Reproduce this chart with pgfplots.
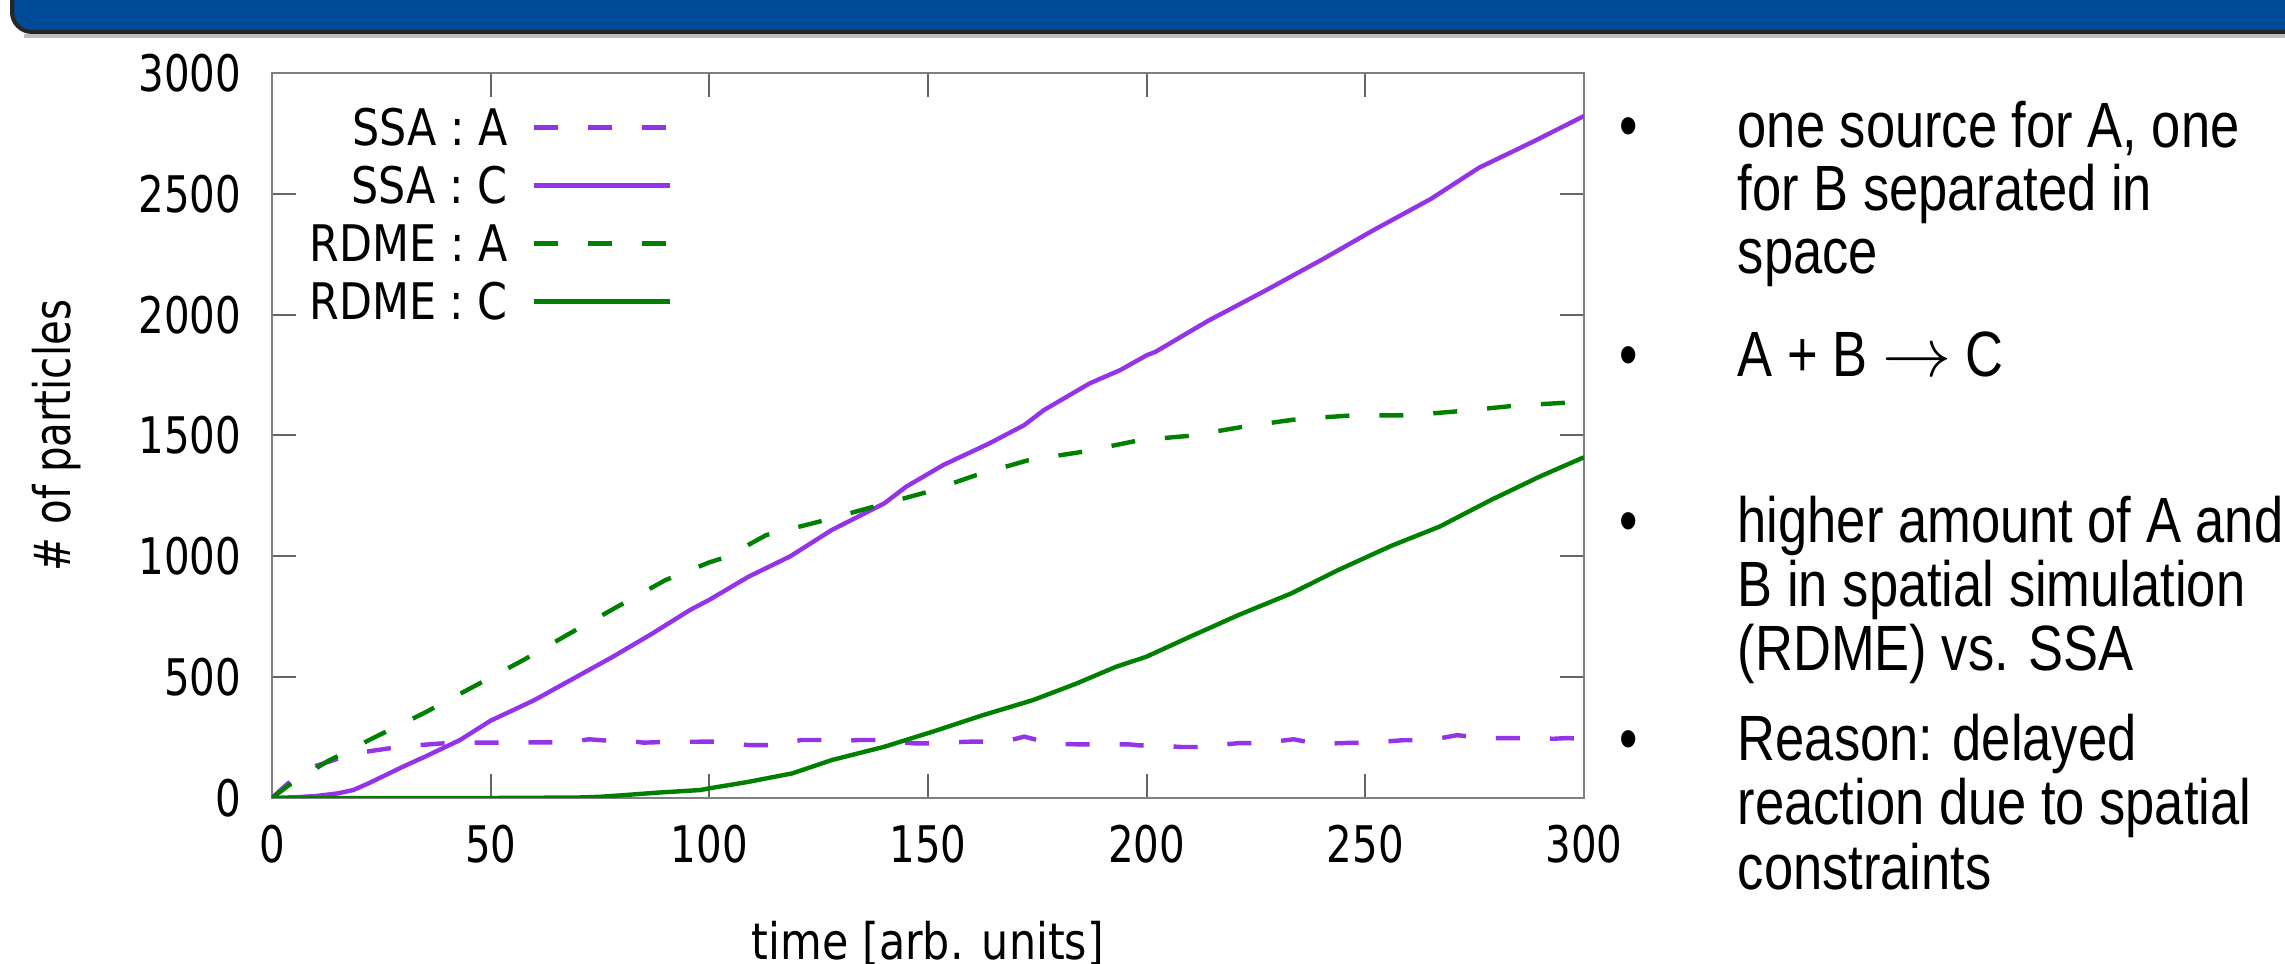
\documentclass[border=0pt]{standalone}
\usepackage{fontspec}
\usepackage{pgfplots}
\pgfplotsset{compat=1.18}
\newfontfamily\plotfont[FakeStretch=0.80]{DejaVu Sans}
\newfontfamily\plotfontw[FakeStretch=0.85]{DejaVu Sans}
\newfontfamily\bulletfont[FakeStretch=0.82]{Liberation Sans}
\definecolor{ssa}{RGB}{148,52,232}
\definecolor{rdme}{RGB}{0,128,0}
\definecolor{banner}{RGB}{0,74,152}
\definecolor{frame}{RGB}{128,128,128}
\newcommand{\pf}{\plotfont\fontsize{12.6}{14}\selectfont}
\newcommand{\pfw}{\plotfontw\fontsize{12.6}{14}\selectfont}
\newcommand{\bfnt}{\bulletfont\fontsize{16}{16}\selectfont}
\begin{document}
\begin{tikzpicture}
\useasboundingbox (0,0) rectangle (571.25pt,241pt);
\fill[white] (0,0) rectangle (571.25pt,241pt);
% banner
\draw[line width=1pt, draw=black!85, fill=banner, rounded corners=5pt] (3pt,250pt) -- (3pt,233pt) -- (600pt,233pt) -- (600pt,250pt) -- cycle;
\draw[line width=0.8pt, gray!50] (6pt,232pt) -- (600pt,232pt);
\begin{axis}[
  scale only axis, width=328pt, height=181.25pt,
  at={(68pt,41.5pt)}, anchor=south west,
  xmin=0, xmax=300, ymin=0, ymax=3000,
  xtick={0,50,...,300}, ytick={0,500,...,3000},
  tick align=inside, major tick length=6pt,
  axis line style={draw=frame, line width=0.6pt},
  tick style={draw=frame!80!black, line width=0.5pt},
  /pgf/number format/assume math mode=true,
  /pgf/number format/set thousands separator={},
  tick label style={font=\pf},
  xticklabel style={anchor=base, yshift=-16.25pt, inner sep=0pt},
  yticklabel style={anchor=east, inner sep=0pt, xshift=-7.5pt},
  xlabel={time [arb. units]}, ylabel={\# of particles},
  xlabel style={font=\pfw, at={(axis description cs:0.5,0)}, anchor=base, yshift=-40.5pt, inner sep=0pt},
  ylabel style={font=\pf, at={(axis description cs:-0.1638,0.5)}, anchor=center, inner sep=0pt},
  legend plot pos=right,
  legend cell align=right,
  legend image code/.code={\draw[#1] (0pt,0pt) -- (34pt,0pt);},
  legend style={draw=none, fill=none, inner sep=0pt, outer sep=0pt,
    at={(rel axis cs:0.305,0.950)}, anchor=north east,
    font=\pfw, row sep=5.4pt, column sep=6pt,
    nodes={inner sep=0pt, text height=9.1pt, text depth=0pt}},
  every axis plot/.append style={line width=1.1pt},
]
\addplot[ssa, dash pattern=on 6pt off 7.5pt] coordinates {
(0,0) (3,50) (6,95) (9.5,130) (13,150) (17,175) (21.7,192) (26.6,205) (33.8,219) (39,226) (46,229) (52,229) (56,225) (59,230) (64,230) (68,230) (72.5,243) (76,238) (80,240) (85,229) (90,232) (98,233) (101,233) (105,225) (109,219) (115,219) (121,240) (127,240) (131,236) (134,240) (139,240) (143,232) (147,226) (151,226) (155,230) (159.5,233) (165,233) (169,240) (172,254) (178,226) (181,223) (184.5,222) (190,222) (196,222) (198,218) (201,218) (205,214) (208,211) (214,211) (217,220) (221,227) (227,227) (230,235) (233.6,243) (239,224) (243,226) (246,228) (252,228) (255,234) (258.5,239) (264,239) (268,250) (271,260) (277,248) (283,248) (289,248) (293,245) (296,248) (300,245)};
\addlegendentry{SSA : A}
\addplot[ssa] coordinates {
(0,0) (5,3) (10,8) (15,19) (18.6,33) (22,60) (26,95) (30,130) (35,171) (43,240) (50,320) (60,405) (69,495) (78,585) (87,681) (95.6,778) (100,820) (109,916) (118.5,1000) (128,1109) (140,1219) (145,1288) (153.5,1378) (164,1467) (172,1543) (176.5,1605) (187,1716) (194,1771) (200,1832) (202,1846) (214,1974) (227.5,2103) (240.5,2232) (252,2351) (265,2479) (276,2608) (288.5,2717) (300,2822)};
\addlegendentry{SSA : C}
\addplot[rdme, dash pattern=on 6pt off 7.5pt] coordinates {
(0,0) (3.7,51) (12.5,150) (23,247) (34.6,350) (46,460) (57.5,571) (68,680) (79,792) (90,902) (100,975) (104,998) (113,1088) (125,1143) (137.5,1205) (150,1267) (161,1336) (173,1398) (185.5,1433) (198.5,1481) (210,1499) (223,1539) (235,1569) (247,1583) (259.5,1583) (272.4,1602) (284.6,1624) (300,1640)};
\addlegendentry{RDME : A}
\addplot[rdme] coordinates {
(0,0) (50,0) (70,2) (75,5) (80.6,12) (88,22) (98,33) (100,40) (109,67) (119,102) (128,157) (140,212) (151,274) (162.6,343) (174,405) (184,474) (193,543) (200,585) (210,668) (221,757) (233,846) (244,945) (256,1044) (267,1123) (278.6,1232) (290,1331) (300,1410)};
\addlegendentry{RDME : C}
\end{axis}
% bullets
\foreach \y in {204,146.75,105.25,50.75} {\node[anchor=base, inner sep=0pt] at (407.25pt,\y pt) {\bfnt •};}
\node[anchor=base west, inner sep=0pt] at (434.25pt,204pt) {\bfnt one source for A, one};
\node[anchor=base west, inner sep=0pt] at (434.25pt,188.25pt) {\bfnt for B separated in};
\node[anchor=base west, inner sep=0pt] at (434.25pt,172.5pt) {\bfnt space};
\node[anchor=base west, inner sep=0pt] at (434.25pt,146.75pt) {\bfnt A + B $\rightarrow$ C};
\node[anchor=base west, inner sep=0pt] at (434.25pt,105.25pt) {\bfnt higher amount of A and};
\node[anchor=base west, inner sep=0pt] at (434.25pt,89.25pt) {\bfnt B in spatial simulation};
\node[anchor=base west, inner sep=0pt] at (434.25pt,73.25pt) {\bfnt (RDME) vs. SSA};
\node[anchor=base west, inner sep=0pt] at (434.25pt,50.75pt) {\bfnt Reason: delayed};
\node[anchor=base west, inner sep=0pt] at (434.25pt,34.75pt) {\bfnt reaction due to spatial};
\node[anchor=base west, inner sep=0pt] at (434.25pt,18.5pt) {\bfnt constraints};
\end{tikzpicture}
\end{document}
